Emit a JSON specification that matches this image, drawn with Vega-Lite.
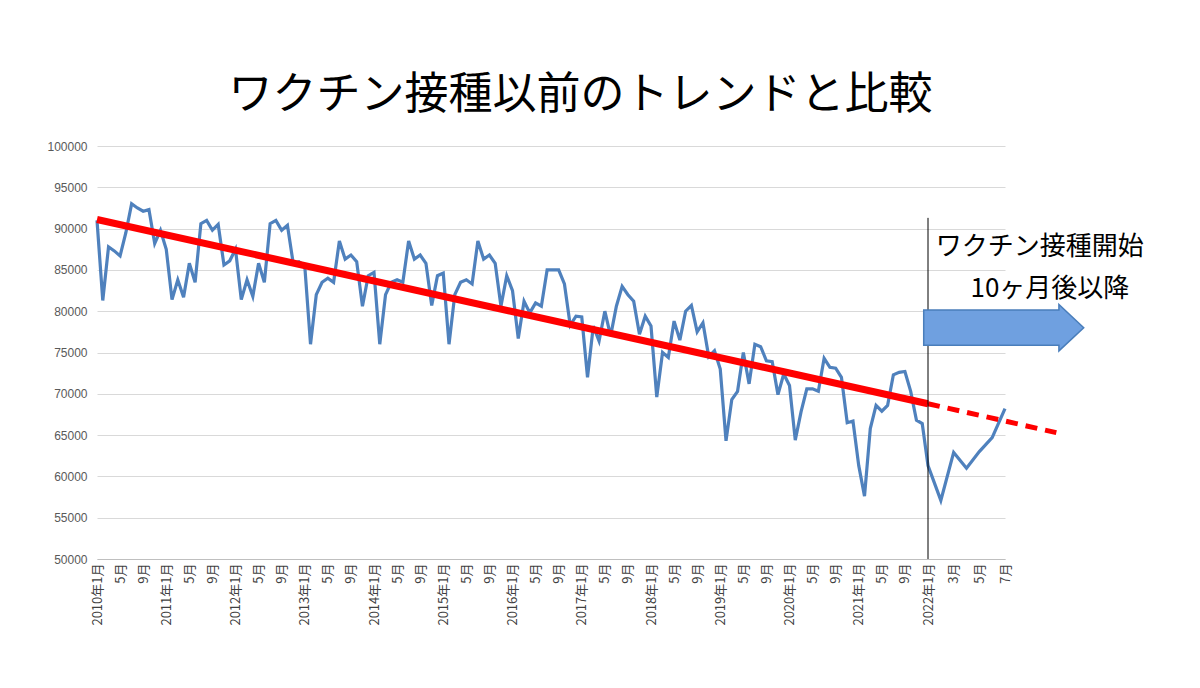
{
  "$schema": "https://vega.github.io/schema/vega-lite/v6.json",
  "autosize": "none",
  "padding": {"left": 97, "top": 146, "right": 190, "bottom": 129},
  "width": 913,
  "height": 413,
  "background": "white",
  "title": {"text": "ワクチン接種以前のトレンドと比較", "fontSize": 44, "font": "Noto Sans CJK JP", "fontWeight": "normal", "color": "black", "offset": 22, "dx": 27},
  "datasets": {
    "births": [
      {"i":0,"v":91000},{"i":1,"v":81300},{"i":2,"v":87800},{"i":3,"v":87300},{"i":4,"v":86700},{"i":5,"v":89500},{"i":6,"v":93000},{"i":7,"v":92500},{"i":8,"v":92100},{"i":9,"v":92300},{"i":10,"v":88200},{"i":11,"v":89800},
      {"i":12,"v":87500},{"i":13,"v":81400},{"i":14,"v":83800},{"i":15,"v":81700},{"i":16,"v":85800},{"i":17,"v":83500},{"i":18,"v":90600},{"i":19,"v":91000},{"i":20,"v":89800},{"i":21,"v":90500},{"i":22,"v":85600},{"i":23,"v":86100},
      {"i":24,"v":87500},{"i":25,"v":81400},{"i":26,"v":83800},{"i":27,"v":81800},{"i":28,"v":85800},{"i":29,"v":83500},{"i":30,"v":90600},{"i":31,"v":91000},{"i":32,"v":89800},{"i":33,"v":90400},{"i":34,"v":85800},{"i":35,"v":86000},
      {"i":36,"v":85500},{"i":37,"v":76000},{"i":38,"v":82000},{"i":39,"v":83500},{"i":40,"v":84000},{"i":41,"v":83500},{"i":42,"v":88500},{"i":43,"v":86300},{"i":44,"v":86800},{"i":45,"v":86000},{"i":46,"v":80600},{"i":47,"v":84300},
      {"i":48,"v":84700},{"i":49,"v":76000},{"i":50,"v":82000},{"i":51,"v":83500},{"i":52,"v":83800},{"i":53,"v":83500},{"i":54,"v":88500},{"i":55,"v":86300},{"i":56,"v":86800},{"i":57,"v":85800},{"i":58,"v":80700},{"i":59,"v":84300},
      {"i":60,"v":84600},{"i":61,"v":76000},{"i":62,"v":82000},{"i":63,"v":83500},{"i":64,"v":83800},{"i":65,"v":83300},{"i":66,"v":88500},{"i":67,"v":86300},{"i":68,"v":86800},{"i":69,"v":85800},{"i":70,"v":80600},{"i":71,"v":84300},
      {"i":72,"v":82500},{"i":73,"v":76700},{"i":74,"v":81200},{"i":75,"v":79800},{"i":76,"v":81000},{"i":77,"v":80600},{"i":78,"v":85000},{"i":79,"v":85000},{"i":80,"v":85000},{"i":81,"v":83300},{"i":82,"v":78300},{"i":83,"v":79400},
      {"i":84,"v":79300},{"i":85,"v":72000},{"i":86,"v":78200},{"i":87,"v":76400},{"i":88,"v":80000},{"i":89,"v":77000},{"i":90,"v":80600},{"i":91,"v":83000},{"i":92,"v":82000},{"i":93,"v":81200},{"i":94,"v":77200},{"i":95,"v":79400},
      {"i":96,"v":78200},{"i":97,"v":69600},{"i":98,"v":75000},{"i":99,"v":74400},{"i":100,"v":78800},{"i":101,"v":76500},{"i":102,"v":80000},{"i":103,"v":80700},{"i":104,"v":77500},{"i":105,"v":78600},{"i":106,"v":74500},{"i":107,"v":75200},
      {"i":108,"v":73000},{"i":109,"v":64300},{"i":110,"v":69300},{"i":111,"v":70300},{"i":112,"v":75000},{"i":113,"v":71200},{"i":114,"v":76000},{"i":115,"v":75700},{"i":116,"v":74000},{"i":117,"v":73900},{"i":118,"v":69900},{"i":119,"v":72400},
      {"i":120,"v":71000},{"i":121,"v":64400},{"i":122,"v":67800},{"i":123,"v":70600},{"i":124,"v":70600},{"i":125,"v":70300},{"i":126,"v":74300},{"i":127,"v":73200},{"i":128,"v":73100},{"i":129,"v":72000},{"i":130,"v":66500},{"i":131,"v":66700},
      {"i":132,"v":61300},{"i":133,"v":57600},{"i":134,"v":65800},{"i":135,"v":68600},{"i":136,"v":67900},{"i":137,"v":68600},{"i":138,"v":72300},{"i":139,"v":72600},{"i":140,"v":72700},{"i":141,"v":70300},{"i":142,"v":66800},{"i":143,"v":66400},
      {"i":144,"v":61300},{"i":145,"v":57100},{"i":146,"v":62900},{"i":147,"v":61000},{"i":148,"v":63000},{"i":149,"v":64700},{"i":150,"v":68200}
    ],
    "trendSolid": [{"i":0,"v":91100},{"i":144,"v":68800}],
    "trendDash": [{"i":144,"v":68800},{"i":154,"v":65300}],
    "marker": [{"i":144,"top":91300,"bottom":50000}],
    "notes": [
      {"i":152.7,"v":87800,"t":"ワクチン接種開始"},
      {"i":153.5,"v":82700,"t":"10ヶ月後以降"}
    ],
    "arrow": [{"i":149.9,"v":78000}]
  },
  "encoding": {
    "x": {
      "field": "i", "type": "quantitative",
      "scale": {"domain": [0, 144, 150], "range": [0, 831, 908], "nice": false, "zero": false},
      "axis": {
        "title": null,
        "values": [0,4,8,12,16,20,24,28,32,36,40,44,48,52,56,60,64,68,72,76,80,84,88,92,96,100,104,108,112,116,120,124,128,132,136,140,144,146,148,150],
        "labelExpr": "datum.value % 12 == 0 ? (2010 + datum.value / 12) + '年1月' : ((datum.value % 12) + 1) + '月'",
        "labelAngle": -90, "labelAlign": "right", "labelBaseline": "middle",
        "labelFontSize": 13, "labelColor": "#404040", "labelFont": "Noto Sans CJK JP",
        "labelPadding": 4, "labelOverlap": false, "labelFlush": false, "labelBound": false,
        "grid": false, "ticks": false, "domainColor": "#bfbfbf"
      }
    },
    "y": {
      "field": "v", "type": "quantitative",
      "scale": {"domain": [50000, 100000], "nice": false, "zero": false},
      "axis": {
        "title": null, "values": [50000,55000,60000,65000,70000,75000,80000,85000,90000,95000,100000],
        "format": "d", "labelFontSize": 12, "labelColor": "#595959", "labelFont": "Liberation Sans",
        "labelPadding": 10, "domain": false, "ticks": false, "gridColor": "#d9d9d9"
      }
    }
  },
  "layer": [
    {"data": {"name": "births"}, "mark": {"type": "line", "color": "#4f81bd", "strokeWidth": 3.2}},
    {"data": {"name": "trendSolid"}, "mark": {"type": "line", "color": "#ff0000", "strokeWidth": 7}},
    {"data": {"name": "trendDash"}, "mark": {"type": "line", "color": "#ff0000", "strokeWidth": 5, "strokeDash": [12, 8], "clip": false}},
    {"data": {"name": "marker"}, "mark": {"type": "rule", "color": "black", "strokeWidth": 1}, "encoding": {"y": {"field": "top", "type": "quantitative"}, "y2": {"field": "bottom"}}},
    {"data": {"name": "arrow"}, "mark": {"type": "point", "filled": true, "clip": false, "size": 25600, "color": "#6fa0e0", "opacity": 1, "stroke": "#4a7ebb", "strokeWidth": 1.5,
      "shape": "M-1,-0.22 L0.69,-0.22 L0.69,-0.29 L1,0 L0.69,0.29 L0.69,0.22 L-1,0.22 Z"}},
    {"data": {"name": "notes"}, "mark": {"type": "text", "fontSize": 26, "font": "Noto Sans CJK JP", "color": "black", "align": "center", "baseline": "middle", "clip": false}, "encoding": {"text": {"field": "t"}}}
  ],
  "config": {"view": {"stroke": null}}
}
